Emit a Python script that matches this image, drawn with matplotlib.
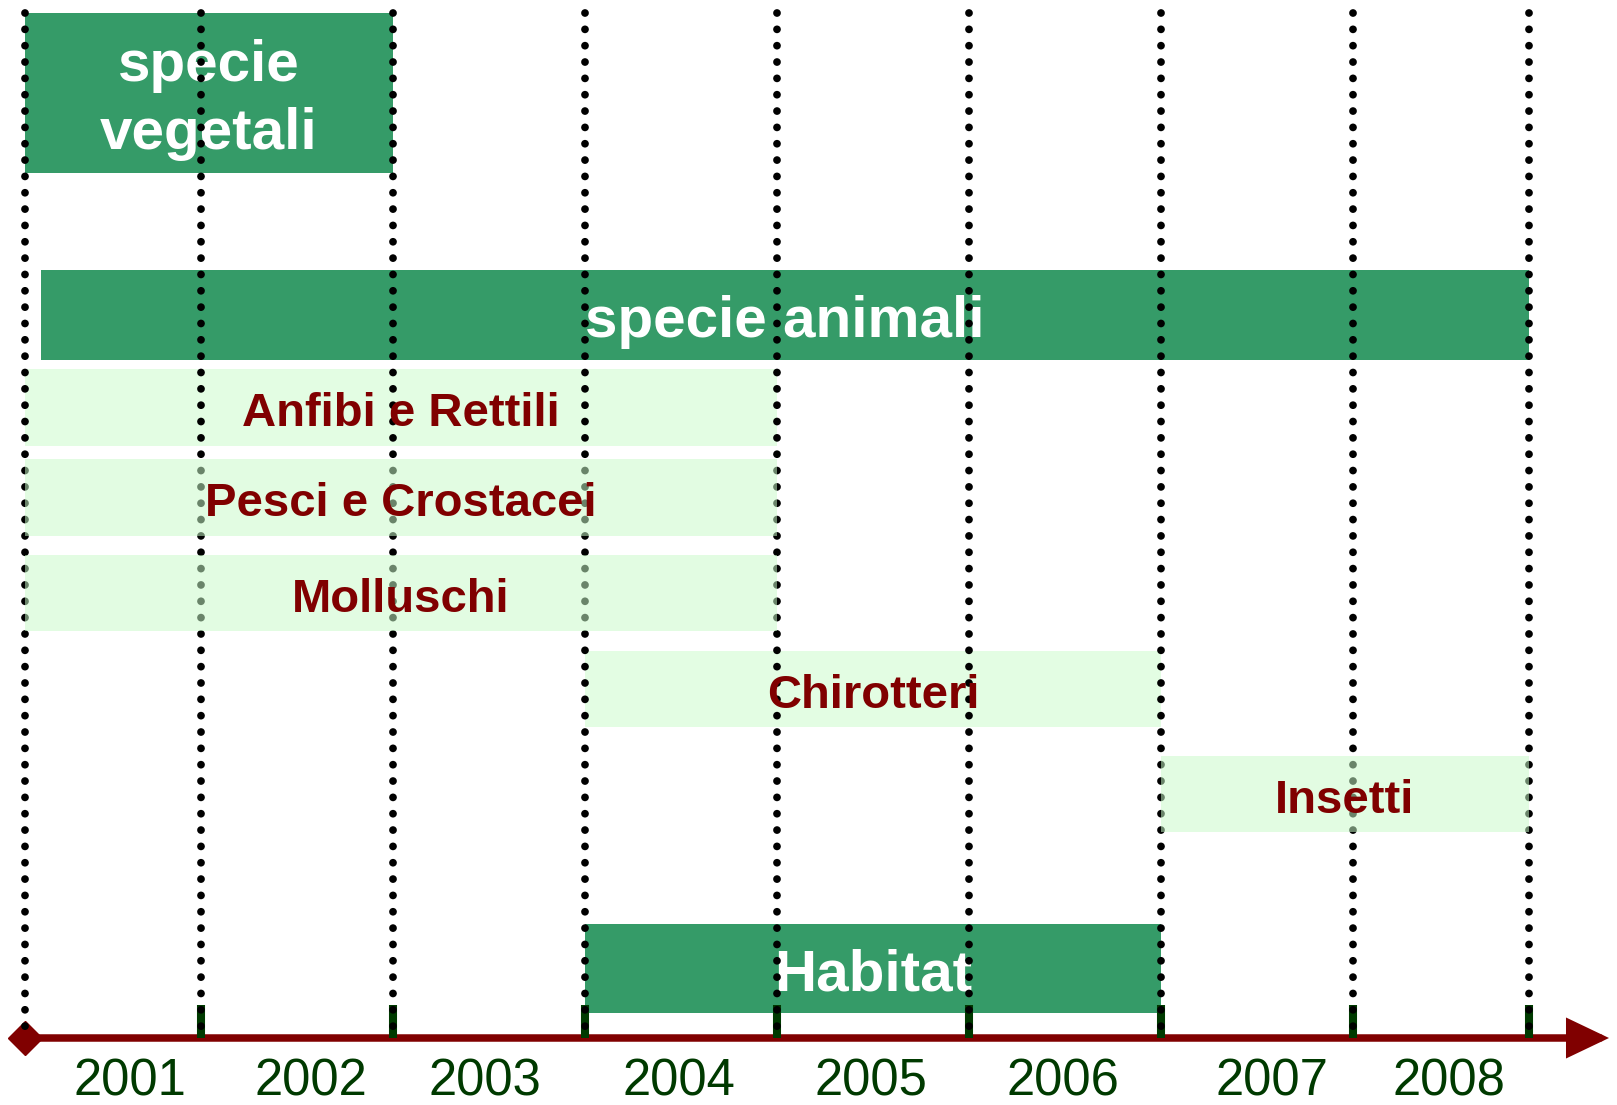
import numpy as np
import matplotlib.pyplot as plt

plt.rcParams['font.family'] = ['Liberation Sans', 'DejaVu Sans']

# ---- data: the timeline ----
years = [2001, 2002, 2003, 2004, 2005, 2006, 2007, 2008]
year_x = [2001.63, 2002.57, 2003.48, 2004.49, 2005.49, 2006.49, 2007.58, 2008.5]
bounds = [2001.083, 2002, 2003, 2004, 2005, 2006, 2007, 2008, 2008.917]

labels = ["specie\nvegetali", "specie animali", "Anfibi e Rettili", "Pesci e Crostacei",
          "Molluschi", "Chirotteri", "Insetti", "Habitat"]
start = [2001.083, 2001.167, 2001.083, 2001.083, 2001.083, 2004, 2007, 2004]
end = [2003, 2008.917, 2005, 2005, 2005, 2007, 2008.917, 2007]
kind = ["main", "main", "sub", "sub", "sub", "sub", "sub", "main"]

# ---- layout (vertical, in pixel rows from the top) ----
row_top = [13, 270, 369, 459, 555, 651, 756, 924]
row_bot = [173, 360, 446, 536, 631, 727, 832, 1013]
over_lines = [False, False, False, True, True, False, True, False]
axis_y = 1038

dark = "#359b68"
light = "#e3fde3"
light_a = "#c9fbc9"
red = "#800000"
dgreen = "#003a00"

fig = plt.figure(figsize=(16.17, 11.05), dpi=100)
ax = fig.add_axes([0, 0, 1, 1])
ax.set_xlim(2003 - 393 / 192, 2003 + 1224 / 192)
ax.set_ylim(1105, 0)
ax.axis("off")

for lab, s, e, k, t, b, ov in zip(labels, start, end, kind, row_top, row_bot, over_lines):
    if k == "main":
        ax.barh((t + b) / 2, e - s, left=s, height=b - t, color=dark, zorder=1)
        ax.text((s + e) / 2, (t + b) / 2 + 7, lab, ha="center", va="center", color="white",
                fontsize=42, fontweight="bold", linespacing=1.32, zorder=2)
    else:
        if ov:
            ax.barh((t + b) / 2, e - s, left=s, height=b - t, color=light_a, alpha=0.53, zorder=4)
        else:
            ax.barh((t + b) / 2, e - s, left=s, height=b - t, color=light, zorder=1)
        ax.text((s + e) / 2, (t + b) / 2 + 7, lab, ha="center", va="center", color=red,
                fontsize=34, fontweight="bold", zorder=5)

#<---- time axis ---->
ax.annotate("", xy=(2003 + 1216 / 192, axis_y), xytext=(bounds[0], axis_y),
            arrowprops=dict(arrowstyle="-|>,head_length=2.2,head_width=1.05", mutation_scale=10,
                            lw=5.4, color=red, shrinkA=0, shrinkB=0, joinstyle="miter"),
            zorder=2)
ax.plot([bounds[0]], [axis_y], marker="D", ms=17, color=red, zorder=2)
ax.vlines(bounds[1:], axis_y - 33, axis_y, colors=dgreen, lw=5.8, zorder=2.5)

# dotted year separators
ax.vlines(bounds, 13, axis_y, colors="black", lw=5.6, linestyles=(0, (0.001, 2.1)),
          capstyle="round", zorder=3)

for y, x in zip(years, year_x):
    ax.text(x, 1082, str(y), ha="center", va="center", color=dgreen, fontsize=36.5)

plt.savefig("out.png", dpi=100)
